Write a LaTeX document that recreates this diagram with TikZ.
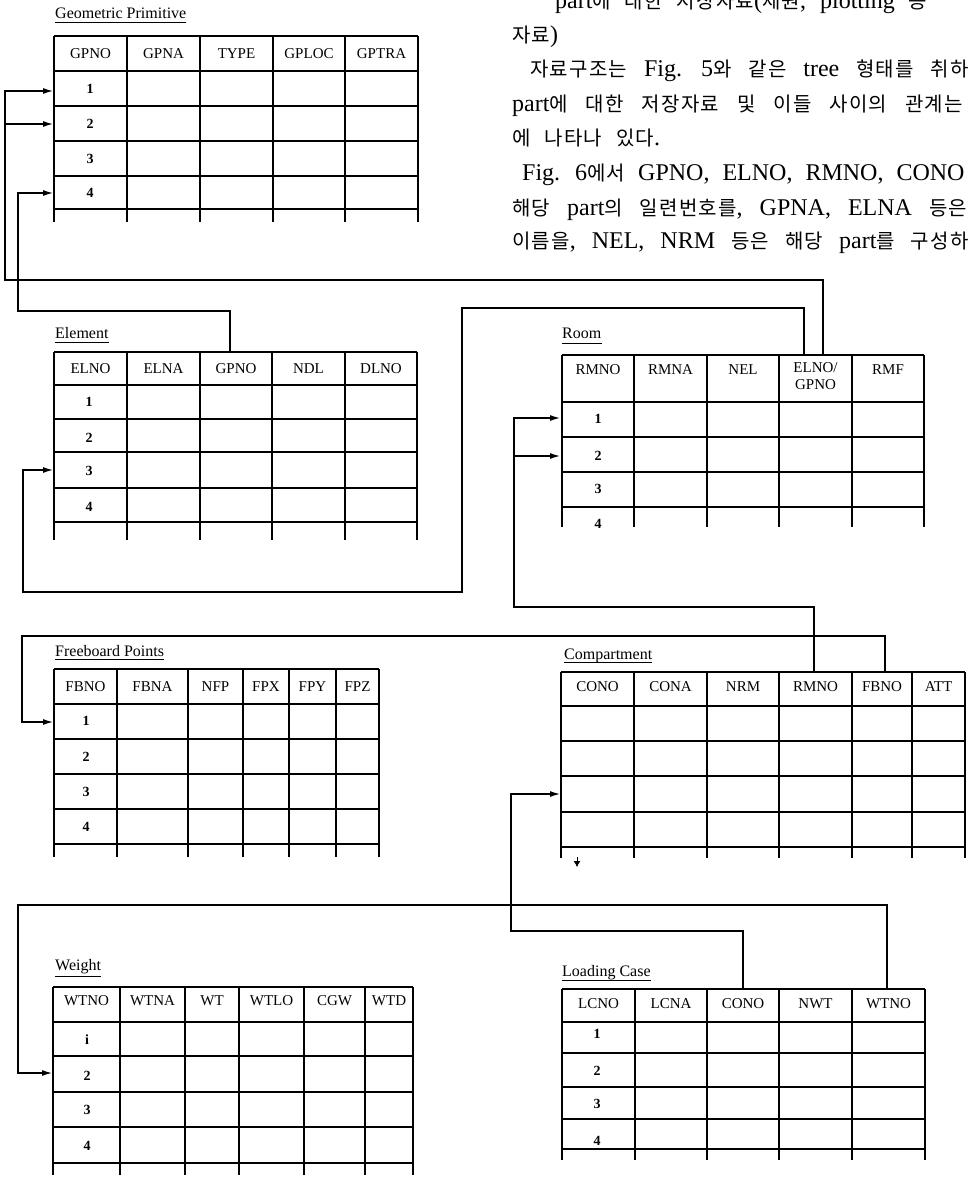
\documentclass[tikz,border=0pt]{standalone}
\usepackage{fontspec}
\setmainfont{Liberation Serif}
\newfontfamily\kr[LetterSpace=6]{Noto Sans CJK KR}
\usetikzlibrary{arrows.meta}
\newcommand\K[1]{{\fontsize{20}{20}\kr #1}}
\newcommand\psp[1]{\spaceskip=#1 plus 2pt\relax}
\begin{document}
\begin{tikzpicture}[x=1pt,y=-1pt,
  tl/.style={line width=1.1pt},
  conn/.style={line width=1.2pt},
  arr/.style={conn,-{Latex[length=10pt,width=6pt]}},
  hd/.style={font=\fontsize{15}{15}\selectfont,inner sep=0pt,anchor=base},
  rl/.style={font=\bfseries\fontsize{14}{14}\selectfont,inner sep=0pt,anchor=base},
  ttl/.style={font=\fontsize{16}{16}\selectfont,anchor=base west,inner sep=0pt},
  para/.style={font=\fontsize{24}{24}\selectfont,anchor=base west,inner sep=0pt},
  uline/.style={line width=0.9pt}
]
\fill[white] (0,0) rectangle (968,1178);
\useasboundingbox (0,0) rectangle (968,1178);

% ---------------- paragraph text (top right)
\node[para] (p1) at (555,8) {\psp{14pt}part\K{에 대한 저장자료}(\K{제원}, plotting \K{등}};
\node[para] (p2) at (512,42) {\psp{14pt}\K{자료})};
\node[para] (p3) at (530,76) {\psp{17pt}\K{자료구조는} Fig. 5\K{와 같은} tree \K{형태를 취하}};
\node[para] (p4) at (512,111) {\psp{18pt}part\K{에 대한 저장자료 및 이들 사이의 관계는}};
\node[para] (p5) at (512,145) {\psp{14pt}\K{에 나타나 있다}.};
\node[para] (p6) at (522,180) {\psp{13pt}Fig. 6\K{에서} GPNO, ELNO, RMNO, CONO};
\node[para] (p7) at (512,215) {\psp{17pt}\K{해당} part\K{의 일련번호를}, GPNA, ELNA \K{등은}};
\node[para] (p8) at (512,248) {\psp{16pt}\K{이름을}, NEL, NRM \K{등은 해당} part\K{를 구성하}};

% ---------------- Geometric Primitive
\node[ttl] (t-gp) at (55,18) {Geometric Primitive};
\draw[uline] ([yshift=-4pt]t-gp.base west) -- ([yshift=-4pt]t-gp.base east);
\foreach \yy in {36,71,106,141,176,209} \draw[tl] (54,\yy) -- (418,\yy);
\foreach \xx in {54,127,200,273,345,418} \draw[tl] (\xx,36) -- (\xx,222);
\foreach \a/\b/\t [count=\i] in {54/127/GPNO,127/200/GPNA,200/273/TYPE,273/345/GPLOC,345/418/GPTRA}
  \node[hd] (gp-h\i) at ({(\a+\b)/2},58) {\t};
\foreach \yy/\t [count=\i] in {93/1,128/2,163/3,197/4}
  \node[rl] (gp-r\i) at (90,\yy) {\t};

% ---------------- Element
\node[ttl] (t-el) at (55,338) {Element};
\draw[uline] ([yshift=-4pt]t-el.base west) -- ([yshift=-4pt]t-el.base east);
\foreach \yy in {352,385,419,452,488,522} \draw[tl] (54,\yy) -- (417,\yy);
\foreach \xx in {54,127,200,272,345,417} \draw[tl] (\xx,352) -- (\xx,540);
\foreach \a/\b/\t [count=\i] in {54/127/ELNO,127/200/ELNA,200/272/GPNO,272/345/NDL,345/417/DLNO}
  \node[hd] (el-h\i) at ({(\a+\b)/2},373) {\t};
\foreach \yy/\t [count=\i] in {406/1,442/2,475/3,511/4}
  \node[rl] (el-r\i) at (89,\yy) {\t};

% ---------------- Room
\node[ttl] (t-rm) at (562,338) {Room};
\draw[uline] ([yshift=-5pt]t-rm.base west) -- ([yshift=-5pt]t-rm.base east);
\foreach \yy in {355,402,437,472,507} \draw[tl] (562,\yy) -- (924,\yy);
\foreach \xx in {562,634,707,779,852,924} \draw[tl] (\xx,355) -- (\xx,527);
\foreach \a/\b/\t [count=\i] in {562/634/RMNO,634/707/RMNA,707/779/NEL,852/924/RMF}
  \node[hd] (rm-h\i) at ({(\a+\b)/2},374) {\t};
\node[hd,align=center,anchor=north] (rm-h5) at (815.5,362) {ELNO/\\[2pt]GPNO};
\foreach \yy/\t [count=\i] in {423/1,460/2,493/3,528/4}
  \node[rl] (rm-r\i) at (598,\yy) {\t};

% ---------------- Freeboard Points
\node[ttl] (t-fb) at (55,656) {Freeboard Points};
\draw[uline] ([yshift=-3pt]t-fb.base west) -- ([yshift=-3pt]t-fb.base east);
\foreach \yy in {669,704,739,774,809,844} \draw[tl] (54,\yy) -- (379,\yy);
\foreach \xx in {54,117,188,243,289,336,379} \draw[tl] (\xx,669) -- (\xx,857);
\foreach \a/\b/\t [count=\i] in {54/117/FBNO,117/188/FBNA,188/243/NFP,243/289/FPX,289/336/FPY,336/379/FPZ}
  \node[hd] (fb-h\i) at ({(\a+\b)/2},691) {\t};
\foreach \yy/\t [count=\i] in {725/1,761/2,796/3,831/4}
  \node[rl] (fb-r\i) at (86,\yy) {\t};

% ---------------- Compartment
\node[ttl] (t-co) at (564,659) {Compartment};
\draw[uline] ([yshift=-3pt]t-co.base west) -- ([yshift=-3pt]t-co.base east);
\foreach \yy in {672,706,741,776,812,847} \draw[tl] (561,\yy) -- (965,\yy);
\foreach \xx in {561,634,707,779,852,912,965} \draw[tl] (\xx,672) -- (\xx,858);
\foreach \a/\b/\t [count=\i] in {561/634/CONO,634/707/CONA,707/779/NRM,779/852/RMNO,852/912/FBNO,912/965/ATT}
  \node[hd] (co-h\i) at ({(\a+\b)/2},691) {\t};

% ---------------- Weight
\node[ttl] (t-wt) at (55,970) {Weight};
\draw[uline] ([yshift=-6pt]t-wt.base west) -- ([yshift=-6pt]t-wt.base east);
\foreach \yy in {987,1022,1056,1092,1127,1163} \draw[tl] (53,\yy) -- (413,\yy);
\foreach \xx in {53,120,185,239,304,365,413} \draw[tl] (\xx,987) -- (\xx,1175);
\foreach \a/\b/\t [count=\i] in {53/120/WTNO,120/185/WTNA,185/239/WT,239/304/WTLO,304/365/CGW,365/413/WTD}
  \node[hd] (wt-h\i) at ({(\a+\b)/2},1005) {\t};
\foreach \yy/\t [count=\i] in {1044/i,1080/2,1114/3,1150/4}
  \node[rl] (wt-r\i) at (87,\yy) {\t};

% ---------------- Loading Case
\node[ttl] (t-lc) at (562,976) {Loading Case};
\draw[uline] ([yshift=-4pt]t-lc.base west) -- ([yshift=-4pt]t-lc.base east);
\foreach \yy in {989,1022,1053,1087,1119,1149} \draw[tl] (562,\yy) -- (925,\yy);
\foreach \xx in {562,635,707,779,852,925} \draw[tl] (\xx,989) -- (\xx,1160);
\foreach \a/\b/\t [count=\i] in {562/635/LCNO,635/707/LCNA,707/779/CONO,779/852/NWT,852/925/WTNO}
  \node[hd] (lc-h\i) at ({(\a+\b)/2},1008) {\t};
\foreach \yy/\t [count=\i] in {1038/1,1075/2,1108/3,1145/4}
  \node[rl] (lc-r\i) at (597,\yy) {\t};

% ---------------- connector end points
\coordinate (rm-o1) at (823,355);
\coordinate (rm-o2) at (804,355);
\coordinate (el-o1) at (230,352);
\coordinate (co-o1) at (814,672);
\coordinate (co-o2) at (885,672);
\coordinate (lc-o1) at (743,989);
\coordinate (lc-o2) at (887,989);
\coordinate (gp-i1) at (53,91);
\coordinate (gp-i2) at (53,124);
\coordinate (gp-i4) at (53,193);
\coordinate (el-i3) at (53,470);
\coordinate (rm-i1) at (560,418);
\coordinate (rm-i2) at (560,456);
\coordinate (fb-i1) at (53,722);
\coordinate (co-i1) at (560,794);
\coordinate (wt-i2) at (52,1073);
\coordinate (j-gp) at (5,124);
\coordinate (j-rm) at (514,456);
\coordinate (co-mark) at (577,857);
\coordinate (co-mark-e) at (577,867);

% ---------------- connectors
\draw[arr] (rm-o1) |- (5,280) |- (gp-i1);
\draw[arr] (j-gp) -- (gp-i2);
\draw[arr] (rm-o2) |- (462,308) |- (23,592) |- (el-i3);
\draw[arr] (el-o1) |- (18,311) |- (gp-i4);
\draw[arr] (co-o1) |- (514,607) |- (rm-i1);
\draw[arr] (j-rm) -- (rm-i2);
\draw[arr] (co-o2) |- (22,636) |- (fb-i1);
\draw[arr] (lc-o1) |- (511,931) |- (co-i1);
\draw[arr] (lc-o2) |- (18,905) |- (wt-i2);
\draw[-{Latex[length=6pt,width=7pt]},line width=0.8pt] (co-mark) -- (co-mark-e);
\end{tikzpicture}
\end{document}
